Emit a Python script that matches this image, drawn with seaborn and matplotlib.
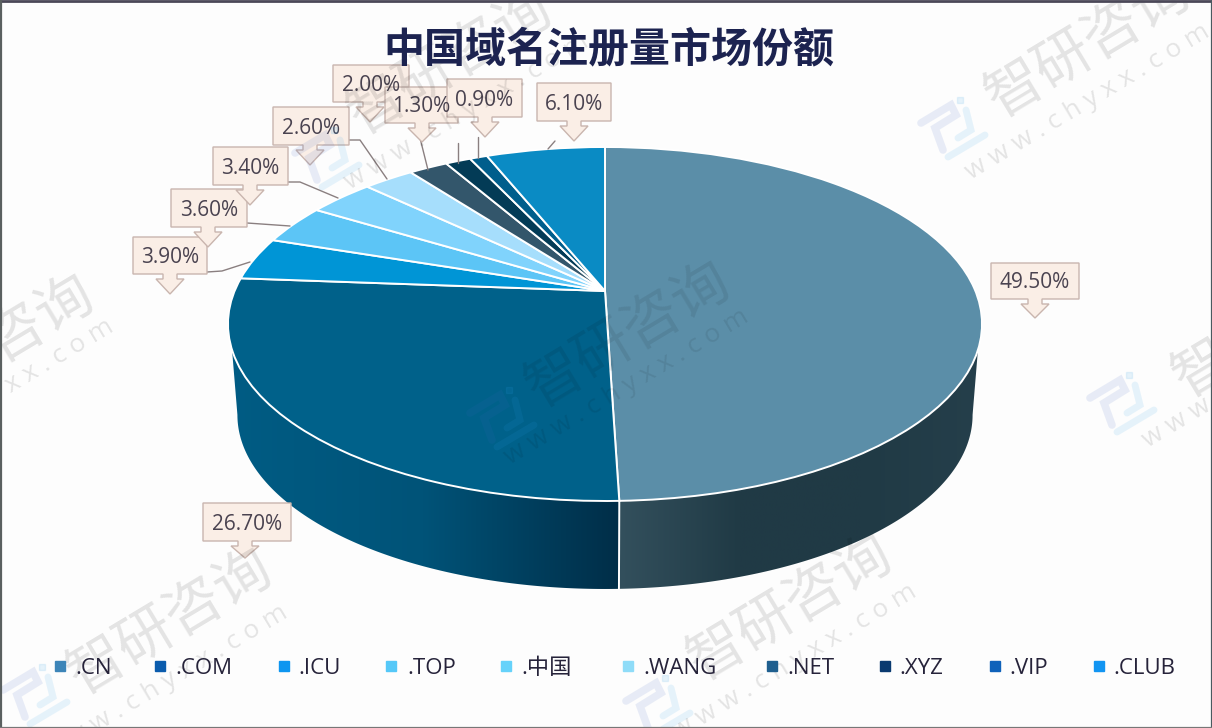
#!/usr/bin/env python3
# 中国域名注册量市场份额 - perspective pie with callouts and watermarks
import numpy as np
import matplotlib
matplotlib.use('Agg')
import matplotlib.pyplot as plt
import seaborn as sns
from matplotlib.colors import LinearSegmentedColormap
from matplotlib.patches import Polygon
from matplotlib.transforms import Transform

# data
domains = ['.CN', '.COM', '.ICU', '.TOP', '.中国', '.WANG', '.NET', '.XYZ', '.VIP', '.CLUB']
shares = [49.5, 26.7, 3.9, 3.6, 3.4, 2.6, 2.0, 1.3, 0.9, 6.1]
share_labels = ['49.50%', '26.70%', '3.90%', '3.60%', '3.40%', '2.60%', '2.00%', '1.30%', '0.90%', '6.10%']

# colours
top_colors = ['#5B8EA8', '#00618A', '#0095D6', '#5CC5F6', '#80D3FC', '#A6DEFC',
              '#33566B', '#033B56', '#005E8C', '#0A8BC4']
legend_colors = ['#3D85B8', '#0B5CAD', '#0E96F0', '#55C8F8', '#66D2FA', '#8FDCF8',
                 '#1F5F8F', '#0A3A70', '#0F62BA', '#1295F2']

# layout in pixels
box_xywh = [(991, 263, 88, 36), (203, 503, 88, 38), (133, 237, 74, 37), (171, 189, 76, 38),
            (213, 147, 75, 38), (273, 107, 76, 38), (333, 65, 76, 37), (385, 87, 73, 36),
            (447, 79, 75, 38), (537, 83, 74, 38)]
tip_xy = [(1035, 318), (245, 558), (170, 294), (208, 247), (250, 205), (310, 165),
          (370, 122), (422, 142), (485, 137), (574, 141)]
leaders = [[(207, 272), (222, 271), (250, 262)], [(247, 223), (290, 226)],
           [(288, 182), (300, 182), (338, 198)], [(349, 140), (360, 140), (387, 179)],
           [(420, 138), (428, 170)], [(458, 143), (458, 163)], [(478, 137), (478, 158)],
           [(555, 141), (548, 149)]]
legend_marker_x = [60, 160, 284, 391, 506, 628, 772, 885, 995, 1099]
legend_text_x = [75, 175, 298, 407, 521, 643, 787, 899, 1009, 1113]
logo_xy = [(953, 130), (1122, 405), (502, 420), (658, 708), (35, 697), (327, 160)]
mark_xy = [(1088, 45), (-8, 348), (1275, 325), (628, 335), (790, 608), (170, 622), (450, 62)]
url_xy = [(1088, 102), (-8, 397), (1265, 370), (627, 387), (795, 662), (166, 683), (467, 112)]
mark_alpha = [0.10, 0.10, 0.10, 0.08, 0.10, 0.10, 0.10]


class Perspective(Transform):
    """Unit pie circle -> tilted disc in pixel coordinates."""
    input_dims = 2
    output_dims = 2
    is_affine = False
    has_inverse = False

    def transform_non_affine(self, values):
        values = np.asarray(values, dtype=float)
        u, v = values[:, 0], values[:, 1]
        w = 1 + 0.1864 * v
        return np.column_stack([605 + 370.4 * u / w, (291 - 116.6 * v) / w])


def rim(theta1, theta2):
    t = np.radians(np.linspace(theta1, theta2, 200))
    return Perspective().transform_non_affine(np.column_stack([np.cos(t), np.sin(t)]))


def lower(points):
    return np.column_stack([605 + (points[:, 0] - 605) * 0.975,
                            415 + (points[:, 1] - 324) * 0.983])


def side_wall(ax, top_span, low_span, stops, x0, x1):
    top = rim(*top_span)
    low = lower(rim(*low_span))
    shape = Polygon(np.vstack([top, low[::-1]]), transform=ax.transData)
    cmap = LinearSegmentedColormap.from_list('side', stops)
    im = ax.imshow(np.linspace(0, 1, 256)[None, :], cmap=cmap, aspect='auto',
                   extent=(x0, x1, 600, 300), zorder=1)
    im.set_clip_path(shape)


def callout(ax, box, tip, label):
    x, y, w, h = box
    tx, ty = tip
    b = y + h
    outline = [(x, y), (x + w, y), (x + w, b), (tx + 7, b), (tx + 7, b + 5), (tx + 14, b + 5),
               (tx, ty), (tx - 14, b + 5), (tx - 7, b + 5), (tx - 7, b), (x, b)]
    ax.add_patch(Polygon(outline, closed=True, fc='#FAEEE6', ec='#C9B5AE', lw=1, zorder=4))
    ax.text(x + w / 2, y + h / 2 + 2, label, ha='center', va='center', fontsize=15,
            family='Open Sans', color='#4A4350', zorder=5)


def logo(ax, lx, ly, alpha):
    # strokes as offsets from the logo centre
    left = np.array([(-32, -7), (-2, -25), (3, -15), (-18, -2), (-10, 20)])
    ax.plot(lx + left[:, 0], ly + left[:, 1], color='#3A62C0', alpha=alpha, lw=5.5,
            solid_joinstyle='miter', zorder=6)
    for stroke in ([(-5, 27), (32, 5)], [(5, 8), (18, 0), (13, -20)]):
        s = np.array(stroke)
        ax.plot(lx + s[:, 0], ly + s[:, 1], color='#2AA0E8', alpha=alpha, lw=5,
                solid_joinstyle='miter', zorder=6)
    ax.plot([lx + 7], [ly - 30], 's', color='#2AA0E8', alpha=alpha, ms=5, zorder=6)


sns.set_theme(style='white')
plt.rcParams['font.family'] = ['Noto Sans CJK SC', 'DejaVu Sans']

fig = plt.figure(figsize=(12.12, 7.28), dpi=100, facecolor='#FDFDFD')
ax = fig.add_axes([0, 0, 1, 1])

palette = sns.color_palette(top_colors)
wedges, _ = ax.pie(shares, colors=palette, startangle=90, counterclock=False,
                   wedgeprops={'edgecolor': 'white', 'linewidth': 1.4}, frame=False)
for wedge in wedges:
    wedge.set_transform(Perspective() + ax.transData)
    wedge.set_zorder(2)

# only the front of the disc shows a wall; the silhouette runs straight
# from the upper rim (about y=350) to the widest point of the lower rim
split = wedges[0].theta1
side_wall(ax, (-18.9, split), (-10.7, split), ['#33505D', '#203A45', '#203A45', '#253F4B'], 619, 982)
side_wall(ax, (split, -161.1), (split, -169.3), ['#002E48', '#005378', '#005C84'], 619, 228)

# divider between .CN and .COM on the side wall
edge = rim(split, split + 0.1)[:1]
edge_low = lower(edge)
ax.plot([edge[0, 0], edge_low[0, 0]], [edge[0, 1], edge_low[0, 1]], color='white', lw=1.4, zorder=1.5)

for line in leaders:
    pts = np.array(line)
    ax.plot(pts[:, 0], pts[:, 1], color='#8A7F80', lw=1, zorder=3)

for box, tip, label in zip(box_xywh, tip_xy, share_labels):
    callout(ax, box, tip, label)

ax.text(609, 49, '中国域名注册量市场份额', ha='center', va='center', fontsize=29.5,
        weight='bold', color='#1C2350', zorder=7)

for mx, tx, name, color in zip(legend_marker_x, legend_text_x, domains, legend_colors):
    ax.plot([mx], [666], 's', color=color, ms=6.5, zorder=7)
    ax.text(tx, 668, name, ha='left', va='center', fontsize=16, color='#26233A', zorder=7,
            family=['Open Sans', 'Noto Sans CJK SC'])

for lx, ly in logo_xy:
    logo(ax, lx, ly, 0.11)
for (mx, my), (ux, uy), a in zip(mark_xy, url_xy, mark_alpha):
    ax.text(mx, my, '智研咨询', rotation=31, rotation_mode='anchor', ha='center', va='center',
            fontsize=41, family='Noto Sans CJK SC', weight='light', color='black', alpha=a, zorder=6)
    ax.text(ux, uy, 'w w w . c h y x x . c o m', rotation=31, rotation_mode='anchor', ha='center',
            va='center', fontsize=19, family='Open Sans', color='black', alpha=a, zorder=6)

ax.set_xlim(0, 1212)
ax.set_ylim(728, 0)
ax.set_aspect('auto')
ax.axis('off')

# screenshot frame
ax.plot([0, 1212], [0.5, 0.5], color='#4B4858', lw=2, zorder=8)
ax.plot([0.5, 0.5], [0, 728], color='#5A6060', lw=1.6, zorder=8)
ax.plot([1211.5, 1211.5], [0, 728], color='#4A5A60', lw=1.6, zorder=8)
ax.plot([0, 1212], [727.5, 727.5], color='#777777', lw=1.6, zorder=8)

fig.savefig('out.png', dpi=100, facecolor=fig.get_facecolor())
